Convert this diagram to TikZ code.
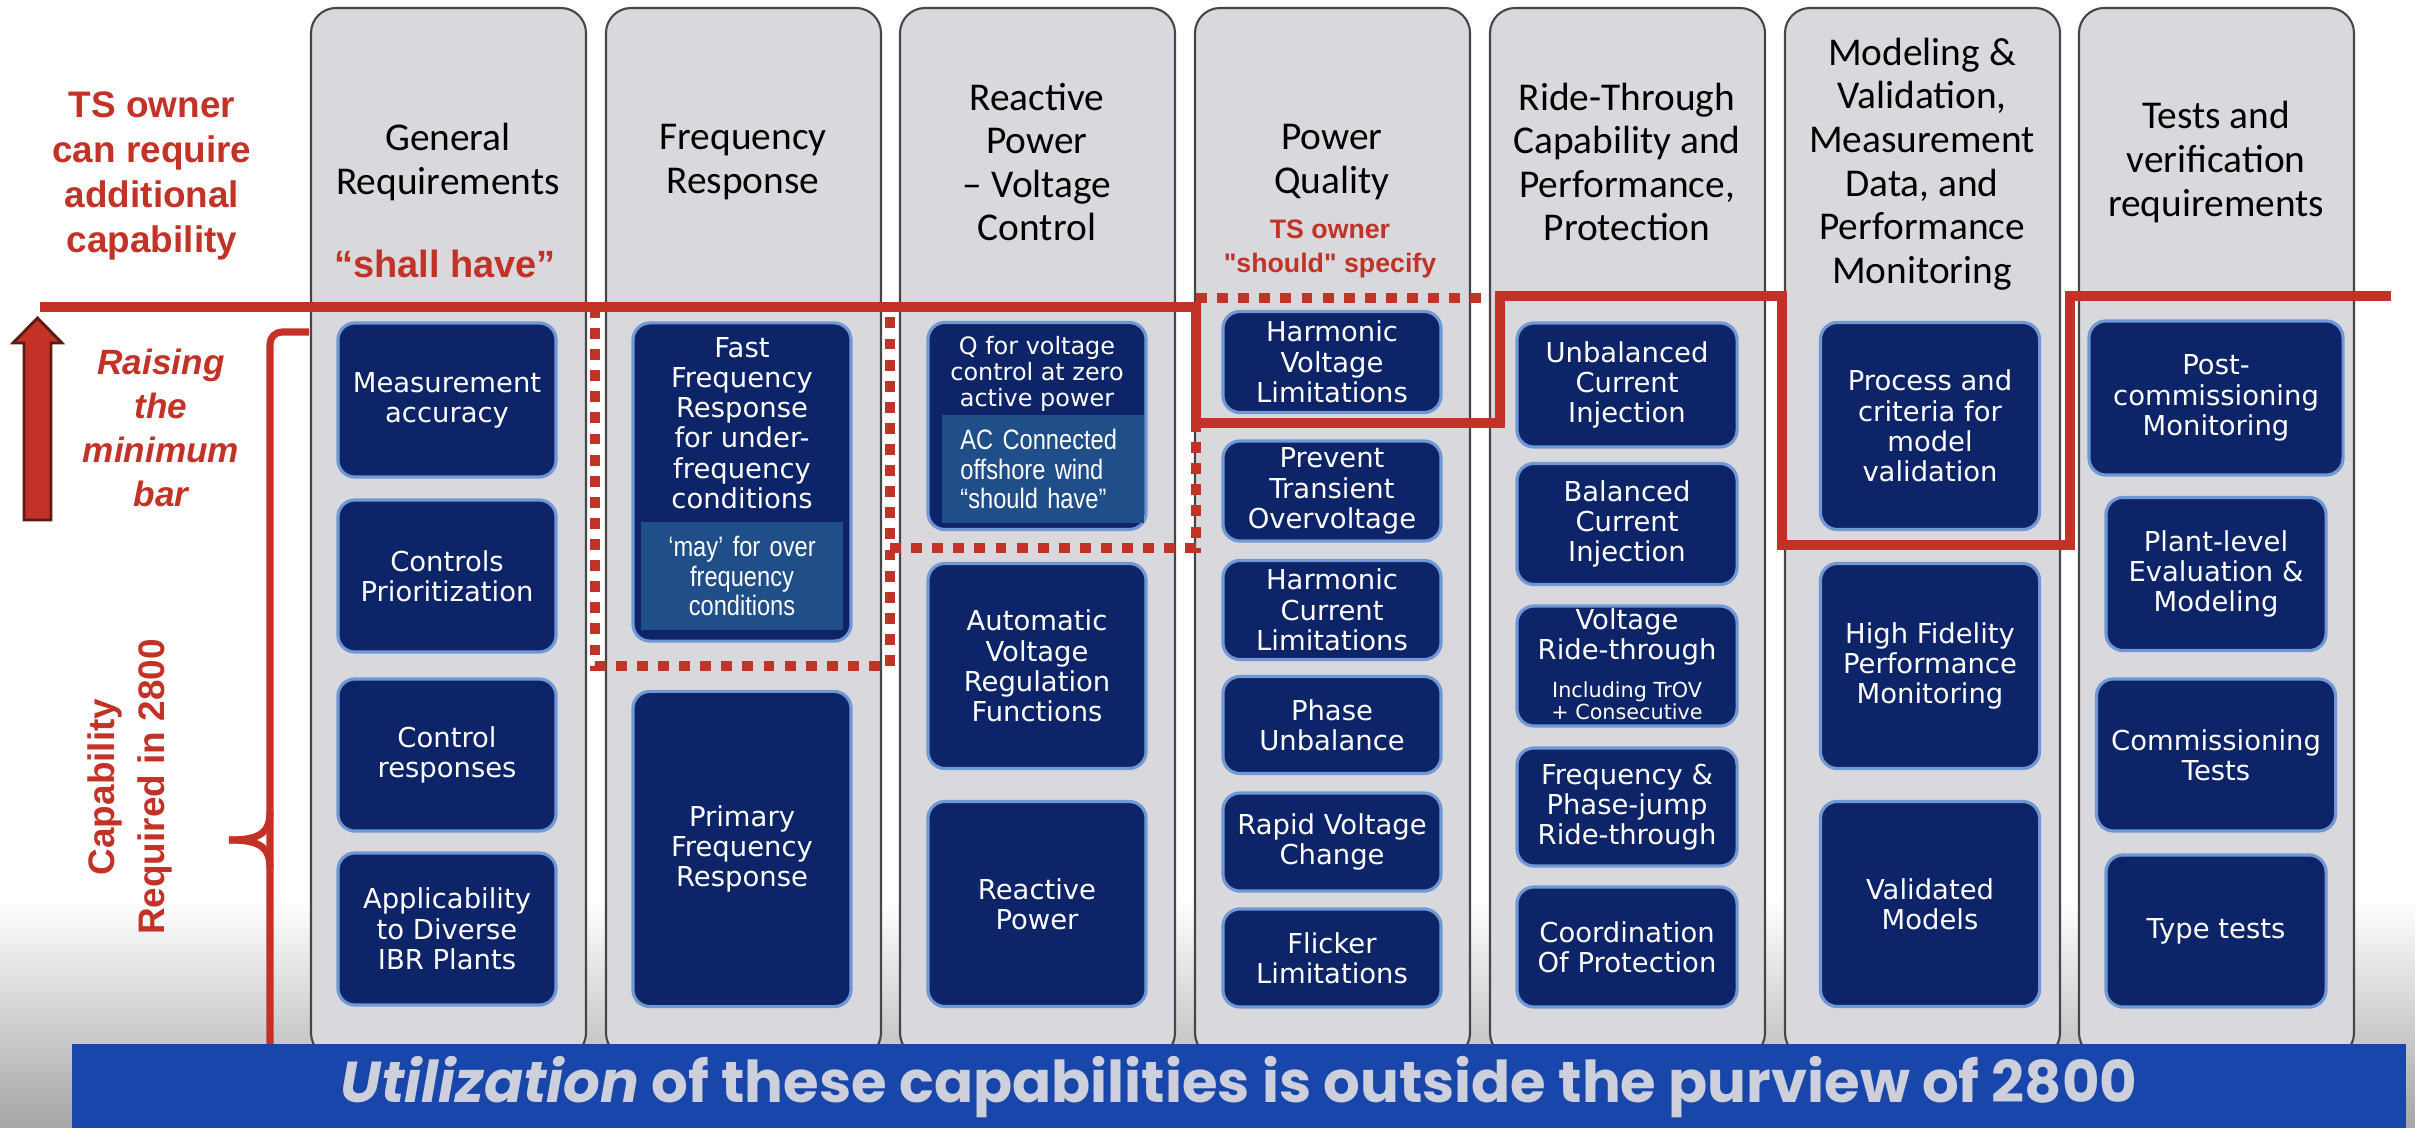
\documentclass[tikz,border=0pt]{standalone}
\usepackage{fontspec}
\setmainfont{Carlito}
\newfontfamily\boxfont{DejaVu Sans}
\newfontfamily\redfont{Liberation Sans}
\newfontfamily\notefont{Liberation Sans}[FakeStretch=0.84]
\newfontfamily\bannerfont{Poppins}
\usetikzlibrary{arrows.meta}

\definecolor{tsred}{RGB}{194,50,38}
\definecolor{arrowedge}{RGB}{90,28,18}
\definecolor{boxnavy}{RGB}{14,36,104}
\definecolor{glow}{RGB}{112,152,212}
\definecolor{noteblue}{RGB}{31,78,136}
\definecolor{colgray}{RGB}{217,217,221}
\definecolor{coledge}{RGB}{70,70,70}
\definecolor{bannerblue}{RGB}{24,70,170}
\definecolor{bantext}{RGB}{205,208,218}

\begin{document}
\begin{tikzpicture}[x=0.01cm,y=-0.01cm]
  \tikzstyle{colbg}=[rounded corners=0.25cm,fill=colgray,draw=coledge,line width=0.6pt]
  \tikzstyle{coltitle}=[align=center,font=\fontsize{11.2}{12.4}\selectfont]
  \tikzstyle{redtext}=[text=tsred,align=center,font=\redfont\bfseries\fontsize{10.5}{12.8}\selectfont]
  \tikzstyle{boxtext}=[text=white,align=center,font=\boxfont\fontsize{7.8}{8.6}\selectfont]
  \tikzstyle{reqbox}=[boxtext,rectangle,rounded corners=0.17cm,fill=boxnavy,draw=glow,line width=0.9pt,minimum width=2.18cm,inner sep=0pt]
  \tikzstyle{notebox}=[rectangle,fill=noteblue,text=white,font=\notefont\fontsize{8}{8.4}\selectfont,inner xsep=0.18cm,minimum height=1.07cm]
  \tikzstyle{minbar}=[draw=tsred,line width=3.1pt]
  \tikzstyle{dotbar}=[draw=tsred,line width=2.6pt,dash pattern=on 3.1pt off 2.9pt]
  \tikzstyle{capbrace}=[draw=tsred,line width=2pt]
  \tikzstyle{bannerbox}=[rectangle,fill=bannerblue,text=bantext,minimum width=23.32cm,minimum height=0.85cm,inner sep=0pt,font=\bannerfont\bfseries\fontsize{16.4}{18}\selectfont]

\useasboundingbox (0,0) rectangle (2415,1128);
\shade[top color=white,bottom color=black!35] (0,900) rectangle (2415,1128);

% columns
\draw[colbg] (311,8) rectangle (586,1058);
\draw[colbg] (606,8) rectangle (881,1058);
\draw[colbg] (900,8) rectangle (1175,1058);
\draw[colbg] (1195,8) rectangle (1470,1058);
\draw[colbg] (1490,8) rectangle (1765,1058);
\draw[colbg] (1785,8) rectangle (2060,1058);
\draw[colbg] (2079,8) rectangle (2354,1058);

\node[coltitle] (gentitle) at (448,162) {General\\Requirements};
\node[coltitle] (freqtitle) at (743,162) {Frequency\\Response};
\node[coltitle] (reactitle) at (1037,162) {Reactive\\Power\\– Voltage\\Control};
\node[coltitle] (pqtitle) at (1332,162) {Power\\Quality};
\node[coltitle] (ridetitle) at (1627,162) {Ride-Through\\Capability and\\Performance,\\Protection};
\node[coltitle] (modtitle) at (1922,164) {Modeling \&\\Validation,\\Measurement\\Data, and\\Performance\\Monitoring};
\node[coltitle] (testtitle) at (2216,162) {Tests and\\verification\\requirements};

% red notes
\node[redtext] (tsowner) at (152,176) {TS owner\\can require\\additional\\capability};
\node[redtext,font=\redfont\bfseries\itshape\fontsize{10}{12.5}\selectfont] (raising) at (161,428) {Raising\\the\\minimum\\bar};
\node[redtext,rotate=90,font=\redfont\bfseries\fontsize{10.5}{14}\selectfont] (capreq) at (130,787) {Capability\\Required in 2800};
\node[redtext,font=\redfont\bfseries\fontsize{10.8}{12}\selectfont] (shall) at (445,264) {“shall have”};
\node[redtext,font=\redfont\bfseries\fontsize{7.6}{9.7}\selectfont] (should) at (1330,249) {TS owner\\"should" specify};

% up arrow
\filldraw[fill=tsred,draw=arrowedge,line width=0.8pt] (24,520) -- (24,343) -- (13,343) -- (37.5,318) -- (62,343) -- (51,343) -- (51,520) -- cycle;

\draw[capbrace,rounded corners=0.12cm] (309,332) -- (270,332) -- (270,1046);
\draw[capbrace] (270,812) .. controls (270,834) and (258,840) .. (229,840);
\draw[capbrace] (270,868) .. controls (270,846) and (258,840) .. (229,840);

% raised bar
\draw[dotbar] (595,307) -- (595,666) -- (890,666) -- (890,307);
\draw[dotbar] (890,548) -- (1196,548) -- (1196,423);
\draw[dotbar] (1196,298) -- (1490,298);
\draw[minbar] (40,307) -- (1196,307) -- (1196,423) -- (1500,423) -- (1500,296) -- (1782,296) -- (1782,545) -- (2070,545) -- (2070,296) -- (2391,296);

% general requirements
\node[reqbox,minimum height=1.54cm] (measacc) at (447,400) {Measurement\\accuracy};
\node[reqbox,minimum height=1.52cm] (ctrlprio) at (447,576) {Controls\\Prioritization};
\node[reqbox,minimum height=1.52cm] (ctrlresp) at (447,755) {Control\\responses};
\node[reqbox,minimum height=1.52cm] (applic) at (447,929) {Applicability\\to Diverse\\IBR Plants};

% frequency response
\node[reqbox,minimum height=3.18cm] (ffr) at (742,482) {};
\node[boxtext] (ffrtext) at (742,423) {Fast\\Frequency\\Response\\for under-\\frequency\\conditions};
\node[notebox,text width=1.66cm,align=center] (mayover) at (742,576) {‘may’ for over\\frequency\\conditions};
\node[reqbox,minimum height=3.15cm] (pfr) at (742,849) {Primary\\Frequency\\Response};

% reactive power
\node[reqbox,minimum height=2.07cm] (qzero) at (1037,426) {};
\node[boxtext,font=\boxfont\fontsize{6.8}{7.4}\selectfont] (qzerotext) at (1037,374) {Q for voltage\\control at zero\\active power};
\node[notebox,text width=1.65cm,align=left] (offshore) at (1043,469) {AC Connected\\offshore wind\\“should have”};
\node[reqbox,minimum height=2.05cm] (avr) at (1037,666) {Automatic\\Voltage\\Regulation\\Functions};
\node[reqbox,minimum height=2.05cm] (reacpow) at (1037,904) {Reactive\\Power};

% power quality
\node[reqbox,minimum height=1.01cm] (harmvolt) at (1332,362) {Harmonic\\Voltage\\Limitations};
\node[reqbox,minimum height=1.00cm] (transov) at (1332,491) {Prevent\\Transient\\Overvoltage};
\node[reqbox,minimum height=0.99cm] (harmcurr) at (1332,610) {Harmonic\\Current\\Limitations};
\node[reqbox,minimum height=0.97cm] (phaseunb) at (1332,725) {Phase\\Unbalance};
\node[reqbox,minimum height=0.98cm] (rapidvolt) at (1332,842) {Rapid Voltage\\Change};
\node[reqbox,minimum height=0.98cm] (flicker) at (1332,958) {Flicker\\Limitations};

% ride-through
\node[reqbox,minimum width=2.20cm,minimum height=1.24cm] (unbalinj) at (1627,385) {Unbalanced\\Current\\Injection};
\node[reqbox,minimum width=2.20cm,minimum height=1.21cm] (balinj) at (1627,524) {Balanced\\Current\\Injection};
\node[reqbox,minimum width=2.20cm,minimum height=1.20cm] (voltride) at (1627,666) {};
\node[boxtext] (voltridetext) at (1627,637) {Voltage\\Ride-through};
\node[boxtext,font=\boxfont\fontsize{5.9}{6.3}\selectfont] (trov) at (1627,701) {Including TrOV\\+ Consecutive};
\node[reqbox,minimum width=2.20cm,minimum height=1.18cm] (freqjump) at (1627,807) {Frequency \&\\Phase-jump\\Ride-through};
\node[reqbox,minimum width=2.20cm,minimum height=1.20cm] (coordprot) at (1627,947) {Coordination\\Of Protection};

% modeling
\node[reqbox,minimum width=2.19cm,minimum height=2.07cm] (procval) at (1930,426) {Process and\\criteria for\\model\\validation};
\node[reqbox,minimum width=2.19cm,minimum height=2.05cm] (hifi) at (1930,666) {High Fidelity\\Performance\\Monitoring};
\node[reqbox,minimum width=2.19cm,minimum height=2.05cm] (valmod) at (1930,904) {Validated\\Models};

% tests
\node[reqbox,minimum width=2.54cm,minimum height=1.54cm] (postcomm) at (2216,398) {Post-\\commissioning\\Monitoring};
\node[reqbox,minimum width=2.20cm,minimum height=1.53cm] (plantlevel) at (2216,574) {Plant-level\\Evaluation \&\\Modeling};
\node[reqbox,minimum width=2.39cm,minimum height=1.52cm] (commtests) at (2216,755) {Commissioning\\Tests};
\node[reqbox,minimum width=2.20cm,minimum height=1.52cm] (typetests) at (2216,931) {Type tests};

\node[bannerbox] (purview) at (1239,1087) {{\itshape Utilization} of these capabilities is outside the purview of 2800};
\end{tikzpicture}
\end{document}
